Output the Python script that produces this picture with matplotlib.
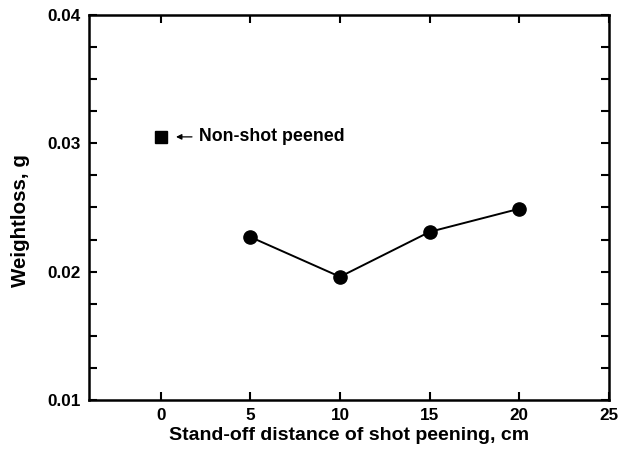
import matplotlib
matplotlib.use("Agg")
import matplotlib.pyplot as plt
from matplotlib.ticker import MultipleLocator

plt.rcParams['font.family'] = ['Liberation Sans', 'DejaVu Sans']
plt.rcParams['font.weight'] = 'bold'

# data
distance = [5, 10, 15, 20]
weightloss = [0.0227, 0.0196, 0.0231, 0.0249]
ref_x = [0]
ref_y = [0.0305]

fig = plt.figure(figsize=(6.2, 4.53), dpi=100)
ax = fig.add_axes([0.1435, 0.117, 0.8387, 0.85])

ax.plot(distance, weightloss, color='black', lw=1.4, marker='o', ms=9.5,
        markerfacecolor='black', markeredgecolor='black')
ax.plot(ref_x, ref_y, ls='none', marker='s', ms=8.5, color='black')

ax.annotate('', xy=(ref_x[0] + 0.7, ref_y[0]), xytext=(ref_x[0] + 1.9, ref_y[0]),
            arrowprops=dict(arrowstyle='-|>', color='black', lw=0.9, mutation_scale=8))
ax.text(ref_x[0] + 2.15, ref_y[0], 'Non-shot peened', fontsize=12.8,
        fontweight='bold', va='center', ha='left')

ax.set_xlim(-4, 25)
ax.set_ylim(0.01, 0.04)
ax.xaxis.set_major_locator(MultipleLocator(5))
ax.yaxis.set_major_locator(MultipleLocator(0.01))
ax.yaxis.set_minor_locator(MultipleLocator(0.0025))
ax.yaxis.set_major_formatter(plt.FuncFormatter(lambda v, p: '%.2f' % v))

ax.tick_params(which='both', direction='in', top=True, right=True,
               length=6, width=1.5, labelsize=12.3, pad=6)
for lab in ax.get_xticklabels() + ax.get_yticklabels():
    lab.set_fontweight('bold')
for s in ax.spines.values():
    s.set_linewidth(1.8)

ax.set_xlabel('Stand-off distance of shot peening, cm', fontsize=14,
              fontweight='bold', labelpad=3)
ax.set_ylabel('Weightloss, g', fontsize=14.8, fontweight='bold')
ax.yaxis.set_label_coords(-0.114, 0.465)

fig.savefig('out.png', dpi=100)
